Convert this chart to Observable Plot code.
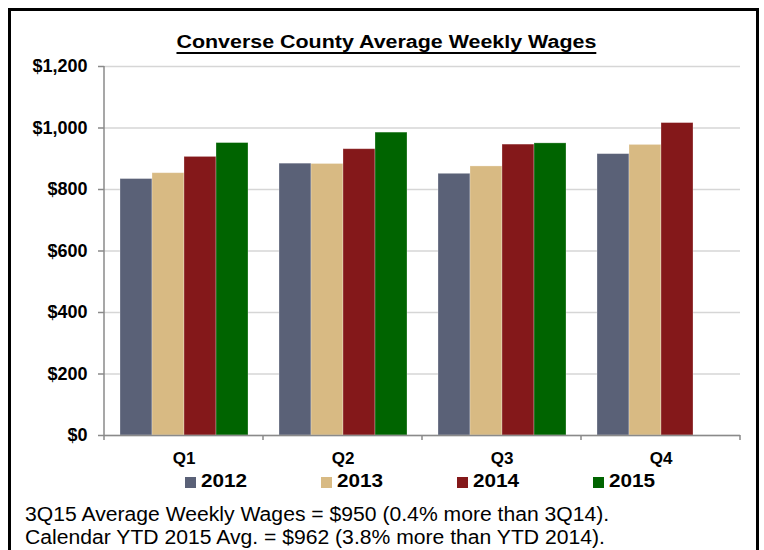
<!DOCTYPE html>
<html>
<head>
<meta charset="utf-8">
<script src="https://cdn.jsdelivr.net/npm/d3@7"></script>
<script src="https://cdn.jsdelivr.net/npm/@observablehq/plot@0.6"></script>
<style>
  html, body { margin: 0; padding: 0; background: #fff; }
  body { width: 764px; height: 550px; position: relative; overflow: hidden;
         font-family: "Liberation Sans", Arial, sans-serif; color: #000; }
  #frame { position: absolute; left: 8px; top: 8px; width: 751px; height: 600px;
           border: 3px solid #000; box-sizing: border-box; }
  #title { position: absolute; left: 0; top: 33px; width: 772px; text-align: center;
           font-size: 18px; line-height: 18px; font-weight: bold; }
  #title span { display: inline-block; transform: scaleX(1.19); transform-origin: center;
                text-decoration: underline; text-decoration-thickness: 2px; text-underline-offset: 4px; }
  #chart { position: absolute; left: 0; top: 56px; }
  #legend { position: absolute; left: 185px; top: 472px; display: flex; gap: 80px;
            font-size: 18px; line-height: 18px; font-weight: bold; }
  .item { display: flex; align-items: center; }
  .sw { width: 11px; height: 11px; margin-right: 5px; margin-top: 2px; }
  .item span { display: inline-block; width: 40px; transform: scaleX(1.15); transform-origin: left center; }
  #caption { position: absolute; left: 25px; top: 503px; font-size: 20px; line-height: 23px;
             white-space: nowrap; transform: scaleX(1.057); transform-origin: left top; }
</style>
</head>
<body>
<div id="frame"></div>
<div id="title"><span>Converse County Average Weekly Wages</span></div>
<div id="chart"></div>
<div id="legend"></div>
<div id="caption"></div>
<script>
const quarters = ["Q1", "Q2", "Q3", "Q4"];
const years = ["2012", "2013", "2014", "2015"];
const wages2012 = [834, 884, 851, 915];
const wages2013 = [853, 883, 875, 945];
const wages2014 = [906, 931, 946, 1016];
const wages2015 = [951, 985, 950, null];
const yTicks = [0, 200, 400, 600, 800, 1000, 1200];
const colors = ["#5A6177", "#D8BA83", "#84181A", "#006400"];
const titleText = "Converse County Average Weekly Wages";
const captionLines = [
  "3Q15 Average Weekly Wages = $950 (0.4% more than 3Q14).",
  "Calendar YTD 2015 Avg. = $962 (3.8% more than YTD 2014)."
];

const series = [wages2012, wages2013, wages2014, wages2015];
const rows = quarters.flatMap((q, i) =>
  years.map((yr, j) => ({quarter: q, year: yr, value: series[j][i]}))
).filter(d => d.value != null);

const fmt = d => "$" + d3.format(",")(d);

const plot = Plot.plot({
  width: 764,
  height: 410,
  marginLeft: 102,
  marginRight: 23,
  marginTop: 10,
  marginBottom: 31,
  fx: {domain: quarters, padding: 0, label: null},
  x: {domain: years, paddingInner: 0, paddingOuter: 0.42, axis: null},
  y: {domain: [0, 1200], label: null},
  color: {domain: years, range: colors},
  style: {fontFamily: "'Liberation Sans', Arial, sans-serif", background: "transparent", color: "#000", overflow: "visible"},
  marks: [
    Plot.gridY(yTicks, {stroke: "#d6d6d6", strokeOpacity: 1, strokeWidth: 1.5}),
    Plot.barY(rows, {fx: "quarter", x: "year", y: "value", fill: "year", stroke: "#ffffff", strokeOpacity: 0.35, strokeWidth: 0.8}),
    Plot.ruleY([0], {stroke: "#8a8a8a", strokeWidth: 1.5}),
    Plot.axisY(yTicks, {tickSize: 6, tickPadding: 11, stroke: "#8a8a8a", strokeWidth: 1.5, fill: "#000",
      tickFormat: fmt, fontSize: 18, fontWeight: "bold", label: null}),
    Plot.axisFx({anchor: "bottom", tickSize: 0, tickPadding: 16, fontSize: 17, fontWeight: "bold", fill: "#000", label: null})
  ]
});

document.getElementById("chart").appendChild(plot);

// axis lines and category boundary ticks drawn from the plot's own scales
const fxs = plot.scale("fx");
const ys = plot.scale("y");
const svg = d3.select(plot);
const g = svg.append("g").attr("stroke", "#8a8a8a").attr("stroke-width", 1.5);
const x0 = fxs.apply(quarters[0]);
g.append("line").attr("x1", x0).attr("x2", x0)
  .attr("y1", ys.apply(yTicks[yTicks.length - 1])).attr("y2", ys.apply(0));
const edges = quarters.map(q => fxs.apply(q)).concat([fxs.apply(quarters[quarters.length - 1]) + fxs.bandwidth]);
edges.forEach(x => {
  g.append("line").attr("x1", x).attr("x2", x)
    .attr("y1", ys.apply(0)).attr("y2", ys.apply(0) + 5);
});

// legend
const legend = d3.select("#legend");
years.forEach((yr, i) => {
  const it = legend.append("div").attr("class", "item");
  it.append("div").attr("class", "sw").style("background", colors[i]);
  it.append("span").text(yr);
});

// caption
d3.select("#caption").selectAll("div").data(captionLines).join("div").text(d => d);
</script>
</body>
</html>
